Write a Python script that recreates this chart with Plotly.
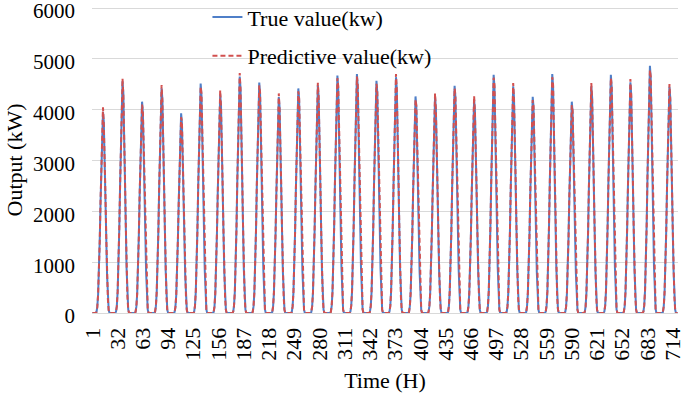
import plotly.graph_objects as go

# Daytime hourly output (kW) per day, hours 6..21 of each day (index 5..20); night hours are 0
true_days = [
    [20,120,360,790,1430,2180,2930,3880,3960,3760,3170,2380,1500,750,280,60],
    [25,140,410,910,1640,2510,3370,4100,4560,4330,3650,2740,1730,870,320,70],
    [20,125,375,830,1500,2290,3080,3740,4157,3950,3330,2490,1580,790,290,60],
    [20,135,400,880,1590,2430,3270,3980,4420,4200,3540,2650,1680,840,310,65],
    [20,120,350,790,1410,2160,2910,3530,3927,3730,3140,2360,1490,750,270,60],
    [25,135,410,900,1630,2480,3340,4060,4516,4290,3610,2710,1720,860,320,70],
    [20,130,390,860,1550,2370,3180,3870,4300,4090,3440,2580,1630,820,300,65],
    [25,140,420,930,1670,2560,3440,4190,4650,4420,3720,2790,1770,880,330,70],
    [25,135,410,910,1630,2490,3360,4080,4535,4310,3630,2720,1720,860,320,70],
    [20,130,380,850,1530,2340,3150,3830,4250,4040,3400,2550,1620,810,300,65],
    [20,135,400,880,1590,2430,3270,3980,4418,4200,3530,2650,1680,840,310,65],
    [20,135,400,900,1610,2460,3320,4030,4480,4260,3580,2690,1700,850,310,65],
    [25,140,420,930,1680,2570,3460,4210,4673,4440,3740,2800,1780,890,330,70],
    [25,140,420,940,1690,2590,3480,4230,4700,4470,3760,2820,1790,890,330,70],
    [25,135,410,910,1640,2510,3380,4110,4569,4340,3660,2740,1740,870,320,70],
    [25,140,420,930,1670,2550,3430,4180,4640,4410,3710,2780,1760,880,320,70],
    [20,130,380,850,1530,2340,3150,3830,4261,4050,3410,2560,1620,810,300,65],
    [20,130,380,850,1530,2340,3150,3830,4250,4040,3400,2550,1620,810,300,65],
    [20,135,400,890,1610,2460,3310,4020,4471,4250,3580,2680,1700,850,310,65],
    [20,125,380,840,1510,2310,3110,3780,4200,3990,3360,2520,1600,800,290,60],
    [25,140,420,940,1690,2580,3470,4220,4686,4450,3750,2810,1780,890,330,70],
    [20,135,400,890,1610,2450,3300,4010,4460,4240,3570,2680,1690,850,310,65],
    [20,130,380,850,1530,2340,3150,3830,4255,4040,3400,2550,1620,810,300,65],
    [25,140,420,940,1690,2590,3480,4230,4700,4470,3760,2820,1790,890,330,70],
    [20,125,375,830,1500,2290,3080,3740,4157,3950,3330,2490,1580,790,290,60],
    [20,135,400,890,1600,2450,3300,4010,4460,4240,3570,2670,1690,850,310,65],
    [25,140,420,940,1690,2580,3470,4220,4686,4450,3750,2810,1780,890,330,70],
    [25,135,410,910,1630,2500,3360,4090,4540,4310,3630,2720,1730,860,320,70],
    [25,145,440,970,1750,2670,3600,4380,4863,4620,3890,2920,1850,920,340,75],
    [20,135,400,890,1600,2450,3290,4010,4450,4230,3560,2670,1690,850,310,65],
]

pred_days = [
    [20,115,370,810,1400,2210,2960,3900,4045,3700,3200,2350,1520,770,270,55],
    [20,130,420,890,1670,2480,3420,4150,4614,4290,3690,2700,1760,850,330,65],
    [20,120,380,850,1470,2310,3050,3770,4100,3980,3300,2520,1560,800,280,60],
    [25,130,410,900,1560,2460,3240,4050,4484,4150,3570,2620,1700,830,320,65],
    [20,115,360,770,1440,2130,2940,3580,3850,3770,3110,2390,1470,760,280,55],
    [20,140,400,920,1600,2510,3310,4100,4450,4320,3580,2740,1700,870,310,65],
    [20,125,400,840,1580,2340,3210,3830,4386,4050,3470,2550,1650,800,310,60],
    [25,145,410,950,1640,2590,3410,4240,4720,4380,3760,2760,1790,870,340,70],
    [20,140,400,930,1610,2520,3330,4120,4480,4340,3600,2750,1700,880,310,65],
    [20,125,390,830,1560,2310,3180,3870,4320,4000,3430,2520,1640,800,310,60],
    [20,130,410,900,1570,2460,3240,4020,4360,4230,3500,2680,1660,850,300,65],
    [25,130,410,890,1640,2430,3350,4080,4530,4220,3620,2660,1720,840,320,70],
    [20,145,410,950,1650,2600,3430,4250,4620,4470,3710,2830,1760,900,320,70],
    [25,145,430,920,1720,2560,3510,4270,4650,4500,3730,2850,1770,900,320,70],
    [20,140,420,930,1610,2540,3350,4150,4510,4370,3630,2770,1720,880,310,65],
    [25,135,430,910,1700,2520,3460,4220,4700,4370,3750,2750,1780,870,330,70],
    [20,125,390,870,1510,2370,3120,3870,4200,4080,3380,2590,1600,820,290,60],
    [20,125,390,830,1560,2310,3180,3870,4320,4000,3430,2520,1640,800,310,60],
    [20,130,410,910,1580,2490,3280,4060,4420,4280,3550,2710,1680,860,300,65],
    [20,130,370,860,1490,2340,3080,3820,4270,3950,3390,2490,1620,790,300,65],
    [25,145,430,920,1710,2550,3500,4260,4630,4480,3720,2840,1760,900,320,70],
    [25,130,410,910,1580,2480,3330,4070,4523,4200,3600,2650,1710,840,320,70],
    [20,125,390,870,1510,2370,3120,3870,4190,4070,3370,2580,1600,820,290,60],
    [25,145,430,920,1720,2560,3510,4270,4640,4500,3730,2850,1770,900,320,70],
    [20,120,380,850,1470,2310,3050,3780,4090,3980,3300,2520,1560,800,280,60],
    [25,130,410,910,1570,2480,3330,4060,4523,4200,3600,2640,1710,840,320,70],
    [25,145,430,920,1710,2550,3500,4260,4620,4480,3720,2840,1760,900,320,70],
    [25,140,420,900,1660,2470,3390,4140,4601,4270,3670,2690,1750,850,330,70],
    [25,150,430,990,1720,2700,3570,4420,4780,4650,3860,2950,1830,930,330,70],
    [25,130,410,900,1580,2470,3320,4050,4503,4200,3590,2640,1710,840,320,70],
]

night_before = [0, 0, 0, 0, 0]
night_after = [0, 0, 0]

x_tick_vals = [1, 32, 63, 94, 125, 156, 187, 218, 249, 280, 311, 342, 373, 404, 435,
               466, 497, 528, 559, 590, 621, 652, 683, 714]
y_tick_vals = [0, 1000, 2000, 3000, 4000, 5000, 6000]

true_vals = []
pred_vals = []
for d in true_days:
    true_vals += night_before + d + night_after
for d in pred_days:
    pred_vals += night_before + d + night_after
hours = list(range(1, len(true_vals) + 1))

FONT = "Liberation Serif, Times New Roman, serif"

fig = go.Figure()
fig.add_trace(go.Scatter(x=hours, y=true_vals, mode="lines", name="True value(kw)",
                         legendgroup="a",
                         line=dict(color="#4F7FC8", width=2)))
fig.add_trace(go.Scatter(x=hours, y=pred_vals, mode="lines", name="Predictive value(kw)",
                         legendgroup="b",
                         line=dict(color="#D2504F", width=2, dash="5px,3px")))

fig.update_layout(
    width=685, height=393,
    margin=dict(l=92, r=7, t=7, b=80, autoexpand=False),
    paper_bgcolor="white", plot_bgcolor="white",
    font=dict(family=FONT, size=22, color="black"),
    showlegend=True,
    legend=dict(x=0.197, y=1.035, xanchor="left", yanchor="top",
                bgcolor="rgba(0,0,0,0)", font=dict(size=22),
                tracegroupgap=7, traceorder="grouped"),
    xaxis=dict(range=[0.5, 720.5], tickmode="array", tickvals=x_tick_vals,
               ticktext=[str(v) for v in x_tick_vals], tickangle=-90,
               showgrid=False, zeroline=False, showline=True, linecolor="#d9d9d9",
               linewidth=1, ticks="", ticklabelstandoff=5,
               title=dict(text="Time (H)", standoff=12, font=dict(size=22)),
               automargin=False, ticklabeloverflow="allow"),
    yaxis=dict(range=[0, 6020], tickmode="array", tickvals=y_tick_vals,
               showgrid=True, gridcolor="#d9d9d9", gridwidth=1, zeroline=False,
               showline=False, ticks="", ticklabelstandoff=16, ticklabelshift=3,
               tickfont=dict(size=21),
               title=dict(text="Output (kW)", standoff=4, font=dict(size=22)),
               automargin=False, ticklabeloverflow="allow"),
)

html = fig.to_html(include_plotlyjs=True, full_html=True,
                   config={"displayModeBar": False, "responsive": False})
html = html.replace("<body>", '<body style="margin:0;padding:0;overflow:hidden">', 1)
html = html.replace("<head>", "<head><style>html,body{margin:0;padding:0;}</style>", 1)
with open("out.html", "w", encoding="utf-8") as f:
    f.write(html)
